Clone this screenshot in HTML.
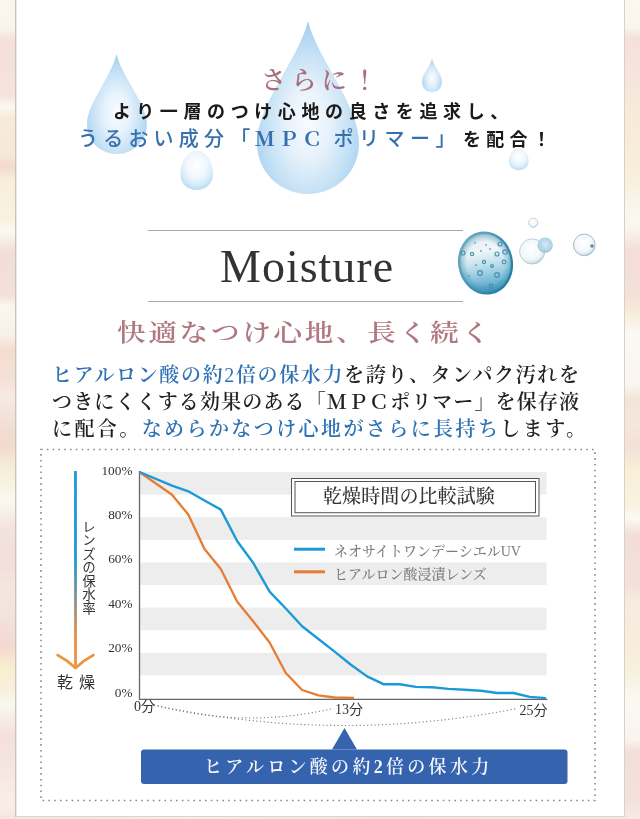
<!DOCTYPE html>
<html lang="ja">
<head>
<meta charset="utf-8">
<style>
*{margin:0;padding:0;box-sizing:border-box}
html,body{width:640px;height:819px;overflow:hidden}
body{position:relative;background:#fbf1e8;font-family:"Liberation Sans","Noto Sans CJK JP",sans-serif}
#fl{position:absolute;left:0;top:0;width:16px;height:819px;background:linear-gradient(180deg,#faf6ee 0px,#faf4ed 28px,#f5e0da 40px,#f6e3dd 95px,#fbf7f2 106px,#f8ead8 118px,#f7e7d7 155px,#f3d9d0 166px,#f8efda 180px,#f9f2e1 220px,#fbf8f2 232px,#f3ded7 252px,#f4e0d8 295px,#faf6f0 306px,#f8f0e8 335px,#f4ddce 350px,#f5e1d7 380px,#f7eae4 395px,#f3e1da 418px,#f2d9cc 445px,#f7eed7 468px,#f8f3e4 488px,#fbf8f2 500px,#f3e2de 530px,#f2deda 565px,#f4e7dc 585px,#f4e3dd 615px,#f3d8d0 645px,#f8eed0 668px,#f8f0dc 690px,#faf7f0 705px,#f4e0dc 735px,#f6e5e1 770px,#f8eee9 800px,#f7e9e3 819px)}
#fr{position:absolute;left:624px;top:0;width:16px;height:819px;background:linear-gradient(180deg,#fbf8ee 0px,#faf4ed 28px,#f5e1da 38px,#f6e5dd 80px,#f8ead7 110px,#f8ecda 160px,#f8f0dd 180px,#faf6eb 205px,#fbf8f0 225px,#f4ded8 250px,#f5e0d8 295px,#f7e9d8 310px,#fbf9f4 332px,#faf5ee 385px,#f4e3d8 400px,#f7e7da 425px,#f4dfd8 445px,#f8f0d8 470px,#f8f2df 505px,#fbf9f4 518px,#f4ddd8 535px,#f4e0da 585px,#f7eadf 600px,#f8ecdd 640px,#f8f0da 668px,#fbf8f2 700px,#faf4ee 740px,#f4ded9 752px,#f5e0dc 800px,#f7e9e3 819px)}
#fb{position:absolute;left:0;top:815px;width:640px;height:4px;background:linear-gradient(90deg,#f6e4de,#f8ece4 30%,#f5e2dc 60%,#f7e8e0)}
#panel{position:absolute;left:15px;top:0;width:610px;height:817px;background:#fff;border-left:1px solid #c4c5bc;border-right:1px solid #d3d3cc;border-bottom:1px solid #d6d6cf;box-shadow:inset 1px 0 0 #e9e9e5}
.abs{position:absolute;white-space:nowrap}
#g{position:absolute;left:0;top:0}
.t1{left:0;width:640px;text-align:center}
.para{font-family:"Liberation Serif","Noto Serif CJK JP","Noto Serif CJK SC",serif;font-size:20px;line-height:27px;color:#222;font-weight:600}
.pl{text-align:justify;text-align-last:justify;white-space:nowrap}
.bl{color:#2f72b3}
.ylab{font-family:"Liberation Serif",serif;font-size:13.3px;fill:#333}
.xlab{font-family:"Liberation Serif","Noto Sans CJK JP",sans-serif;font-size:14px;fill:#333}
</style>
</head>
<body>
<div id="fl"></div><div id="fr"></div><div id="fb"></div>
<div id="panel"></div>
<svg id="g" width="640" height="819" viewBox="0 0 640 819">
<defs>
<radialGradient id="eggG" cx="0.5" cy="0.38" r="0.62">
<stop offset="0" stop-color="#ffffff"/>
<stop offset="0.5" stop-color="#f0f7fd"/>
<stop offset="0.8" stop-color="#d6ebfa"/>
<stop offset="1" stop-color="#b7dcf5"/>
</radialGradient>
<radialGradient id="dropG" cx="0.5" cy="0.6" r="0.6" fx="0.5" fy="0.58">
<stop offset="0" stop-color="#f8fcff"/>
<stop offset="0.35" stop-color="#e7f2fb"/>
<stop offset="0.7" stop-color="#c3e0f5"/>
<stop offset="1" stop-color="#a2cef0"/>
</radialGradient>
<linearGradient id="arrowG" x1="0" y1="0" x2="0" y2="1">
<stop offset="0" stop-color="#1c9ad8"/>
<stop offset="0.5" stop-color="#2a9ad0"/>
<stop offset="1" stop-color="#eb8a35"/>
</linearGradient>
<linearGradient id="bubLin" x1="0" y1="0" x2="0" y2="1">
<stop offset="0" stop-color="#e2edf1"/>
<stop offset="0.3" stop-color="#eff6f8"/>
<stop offset="0.5" stop-color="#c8e3ee"/>
<stop offset="0.78" stop-color="#7dbdd9"/>
<stop offset="1" stop-color="#3f95bd"/>
</linearGradient>
<radialGradient id="bubEdge" cx="0.5" cy="0.5" r="0.5">
<stop offset="0.7" stop-color="#2f87a9" stop-opacity="0"/>
<stop offset="0.9" stop-color="#2f87a9" stop-opacity="0.35"/>
<stop offset="1" stop-color="#2a7e9f" stop-opacity="0.75"/>
</radialGradient>
<linearGradient id="rimG" x1="0" y1="0" x2="1" y2="1">
<stop offset="0" stop-color="#7fb0c6"/>
<stop offset="0.5" stop-color="#3d92b4"/>
<stop offset="1" stop-color="#1f7596"/>
</linearGradient>
<radialGradient id="bubG" cx="0.42" cy="0.33" r="0.68">
<stop offset="0" stop-color="#f6fafb"/>
<stop offset="0.35" stop-color="#e2eff4"/>
<stop offset="0.62" stop-color="#b5d9e9"/>
<stop offset="0.8" stop-color="#7fbcd6"/>
<stop offset="0.92" stop-color="#4a9abb"/>
<stop offset="1" stop-color="#2c7f9f"/>
</radialGradient>
<radialGradient id="sbG" cx="0.45" cy="0.4" r="0.6">
<stop offset="0" stop-color="#ffffff"/>
<stop offset="0.7" stop-color="#f2f7fa"/>
<stop offset="0.9" stop-color="#d6e6ee"/>
<stop offset="1" stop-color="#a9c3cf"/>
</radialGradient>
<radialGradient id="sb2G" cx="0.5" cy="0.45" r="0.6">
<stop offset="0" stop-color="#d2e8f3"/>
<stop offset="0.7" stop-color="#a6cfe4"/>
<stop offset="1" stop-color="#6fa9c6"/>
</radialGradient>
</defs>
<!-- drops -->
<path d="M308 21 C318 60 359 105 359 143 C359 172 336 194 308 194 C280 194 257 172 257 143 C257 105 298 60 308 21 Z" fill="url(#dropG)"/>
<path d="M116.5 54 C122 77 147 104 147 124 C147 141 133 154 117 154 C100 154 87 141 87 124 C87 104 111 77 116.5 54 Z" fill="url(#dropG)"/>
<path d="M196.6 150.5 C206 150.5 213 163 213 174 C213 183.5 205.7 190 196.6 190 C187.5 190 180.3 183.5 180.3 174 C180.3 163 187.2 150.5 196.6 150.5 Z" fill="url(#eggG)"/>
<path d="M432 58.5 C434 67 442 74 442 82 C442 88 437.5 92 432 92 C426.5 92 422 88 422 82 C422 74 430 67 432 58.5 Z" fill="url(#dropG)"/>
<path d="M518.8 148.5 C524.5 148.5 528.6 155 528.6 161 C528.6 166.5 524.3 170.3 518.8 170.3 C513.3 170.3 509 166.5 509 161 C509 155 513.1 148.5 518.8 148.5 Z" fill="url(#eggG)"/>
<!-- bubbles -->
<g transform="rotate(-10 485.5 263)">
<ellipse cx="485.5" cy="263" rx="26.5" ry="30.8" fill="url(#bubLin)"/>
<ellipse cx="485.5" cy="263" rx="26.5" ry="30.8" fill="url(#bubEdge)"/>
<ellipse cx="485.5" cy="263" rx="26.3" ry="30.6" fill="none" stroke="url(#rimG)" stroke-width="2.2"/>
</g>
<g fill="none" stroke="#3b8db0" stroke-width="1.2" opacity="0.9">
<circle cx="472" cy="254" r="1.6"/><circle cx="497" cy="254" r="2"/><circle cx="505" cy="252" r="2.2"/>
<circle cx="504" cy="262" r="1.8"/><circle cx="480" cy="273" r="2.4"/><circle cx="497" cy="275" r="2.4"/>
<circle cx="491" cy="286" r="1.8"/><circle cx="463" cy="253" r="2"/><circle cx="500" cy="244" r="2"/>
<circle cx="484" cy="262" r="1.6"/><circle cx="492" cy="266" r="1.4"/>
</g>
<g fill="#4b97b8" opacity="0.8">
<circle cx="481" cy="251" r="1"/><circle cx="490" cy="249" r="1"/><circle cx="476" cy="265" r="1"/>
<circle cx="469" cy="276" r="1.1"/><circle cx="486" cy="245" r="0.9"/><circle cx="475" cy="243" r="0.9"/>
</g>
<circle cx="533.2" cy="222.7" r="4.6" fill="url(#sbG)" stroke="#b9c9d1" stroke-width="0.8"/>
<circle cx="532.2" cy="251.5" r="12.6" fill="url(#sbG)" stroke="#bccbd2" stroke-width="0.9"/>
<circle cx="545.2" cy="245.2" r="7.6" fill="url(#sb2G)" opacity="0.9"/>
<circle cx="584.3" cy="244.9" r="10.8" fill="url(#sbG)" stroke="#a9bcc6" stroke-width="1"/>
<circle cx="592" cy="246" r="1.8" fill="#4d8fa8"/>
</svg>

<div class="abs" style="left:261px;top:60px;font-family:'Noto Serif CJK JP','Noto Serif CJK SC',serif;font-size:25px;letter-spacing:5.4px;color:#a96f79;font-weight:600">さらに！</div>
<div class="abs" style="left:113px;top:97px;font-size:18px;letter-spacing:5.6px;color:#1a1a1a;font-weight:700">より一層のつけ心地の良さを追求し、</div>
<div class="abs" style="left:78px;top:123px;font-size:20px;letter-spacing:5.2px;color:#386fae;font-weight:500">うるおい成分</div>
<div class="abs" style="left:230.3px;top:123px;font-size:20px;color:#386fae;font-weight:500">「</div>
<div class="abs" style="left:254.7px;top:123px;font-size:20px;letter-spacing:3.75px;color:#386fae;font-family:'Noto Serif CJK JP','Noto Serif CJK SC',serif;font-weight:700">ＭＰＣ</div>
<div class="abs" style="left:333.4px;top:123px;font-size:20px;letter-spacing:5.5px;color:#386fae;font-weight:500">ポリマー」</div>
<div class="abs" style="left:463px;top:125px;font-size:18px;letter-spacing:5.2px;color:#1a1a1a;font-weight:700">を配合！</div>

<!-- Moisture -->
<div class="abs" style="left:148px;top:230px;width:315px;height:1px;background:#a9a9a9"></div>
<div class="abs" style="left:148px;top:301px;width:315px;height:1px;background:#a9a9a9"></div>
<div class="abs" style="left:220px;top:240px;font-family:'Liberation Serif',serif;font-size:46px;color:#333;letter-spacing:1px">Moisture</div>
<div class="abs" style="left:117px;top:313px;font-family:'Noto Serif CJK JP','Noto Serif CJK SC',serif;font-size:26px;letter-spacing:2.45px;color:#b07880;font-weight:600;transform:scale(1.1,0.92);transform-origin:0 0">快適なつけ心地、長く続く</div>

<div class="abs para" style="left:52px;top:361.5px;width:527px">
<div class="pl"><span class="bl">ヒアルロン酸の約<span style="font-weight:400">2</span>倍の保水力</span>を誇り、タンパク汚れを</div>
<div class="pl">つきにくくする効果のある「ＭＰＣポリマー」を保存液</div>
<div class="pl" style="width:534px">に配合。<span class="bl">なめらかなつけ心地がさらに長持ち</span>します。</div>
</div>

<!-- chart -->
<svg class="abs" style="left:0;top:0" width="640" height="819" viewBox="0 0 640 819">
<defs>
<linearGradient id="arrowG2" x1="0" y1="471" x2="0" y2="668" gradientUnits="userSpaceOnUse">
<stop offset="0" stop-color="#1c9ad8"/>
<stop offset="0.45" stop-color="#2398d2"/>
<stop offset="0.85" stop-color="#e8903f"/>
<stop offset="1" stop-color="#ee9440"/>
</linearGradient>
</defs>
<rect x="41" y="449.5" width="554" height="351" fill="none" stroke="#8a8a8a" stroke-width="1.6" stroke-dasharray="1.6 4.2"/>
<g fill="#ededed">
<rect x="140" y="472" width="406.5" height="22.6"/>
<rect x="140" y="517.2" width="406.5" height="22.6"/>
<rect x="140" y="562.4" width="406.5" height="22.6"/>
<rect x="140" y="607.6" width="406.5" height="22.6"/>
<rect x="140" y="652.8" width="406.5" height="22.6"/>
</g>
<line x1="139.5" y1="471" x2="139.5" y2="699.5" stroke="#666" stroke-width="1.3"/>
<line x1="139" y1="699.3" x2="547.5" y2="699.3" stroke="#666" stroke-width="1.3"/>
<polyline fill="none" stroke="#e57d33" stroke-width="2.3" stroke-linejoin="round" points="139.5,472.0 172.0,494.8 188.3,514.5 204.5,549.0 220.8,569.0 237.1,601.5 253.3,621.5 269.6,642.5 285.8,673.0 302.1,690.0 318.4,695.3 334.6,697.5 354,698.0"/>
<polyline fill="none" stroke="#1b9ad8" stroke-width="2.4" stroke-linejoin="round" points="139.5,472.0 172.0,485.7 188.3,491.3 204.5,500.5 220.8,509.6 237.1,541.0 253.3,563.0 269.6,591.6 285.8,608.5 302.1,626.3 318.4,639.0 334.6,651.6 350.9,664.7 367.1,676.4 383.4,684.2 399.7,684.2 415.9,686.9 432.2,687.3 448.4,688.9 464.7,689.8 481.0,690.8 497.2,693.0 513.5,693.0 529.7,696.9 546.0,698.1"/>
<g class="ylab" text-anchor="end">
<text x="132.5" y="474.5">100%</text>
<text x="132.5" y="519">80%</text>
<text x="132.5" y="563.4">60%</text>
<text x="132.5" y="607.9">40%</text>
<text x="132.5" y="652.3">20%</text>
<text x="132.5" y="696.7">0%</text>
</g>
<g class="xlab">
<text x="134" y="711">0分</text>
<text x="335" y="713.5">13分</text>
<text x="519.5" y="714.5">25分</text>
</g>
<g fill="none" stroke="#777" stroke-width="1.1" stroke-dasharray="1.1 2.6">
<path d="M154 705 Q245 729 333 708.5"/>
<path d="M154 705 Q335 744 516 708.75"/>
</g>
<!-- legend -->
<rect x="291.5" y="478.5" width="247.5" height="37.5" fill="#fff" stroke="#555" stroke-width="1"/>
<rect x="295" y="481.5" width="240.5" height="31.2" fill="#fff" stroke="#555" stroke-width="1"/>
<text x="323" y="503" style="font-family:'Noto Serif CJK JP','Noto Serif CJK SC',serif;font-size:19px;fill:#333;letter-spacing:0.1px;font-weight:500">乾燥時間の比較試験</text>
<line x1="294" y1="549.2" x2="325" y2="549.2" stroke="#1b9ad8" stroke-width="3"/>
<line x1="294" y1="571.8" x2="325" y2="571.8" stroke="#e57d33" stroke-width="3"/>
<g style="font-family:'Liberation Serif','Noto Serif CJK JP','Noto Serif CJK SC',serif;font-size:14px;fill:#7a7a7a;font-weight:500">
<text x="334" y="556">ネオサイトワンデーシエルUV</text>
<text x="334" y="579">ヒアルロン酸浸漬レンズ</text>
</g>
<!-- y axis arrow -->
<line x1="75.5" y1="471" x2="75.5" y2="667" stroke="url(#arrowG2)" stroke-width="2.8"/>
<path d="M57.5 655 Q67 660 75.5 668 Q84 660 93.5 655" fill="none" stroke="#ee9440" stroke-width="2.6" stroke-linecap="round" stroke-linejoin="round"/>
<text x="89" y="520" style="writing-mode:vertical-rl;font-family:'Noto Sans CJK JP',sans-serif;font-size:13.5px;fill:#333">レンズの保水率</text>
<text x="57" y="687.5" style="font-family:'Noto Sans CJK JP',sans-serif;font-size:16px;fill:#333;letter-spacing:6px">乾燥</text>
<!-- callout -->
<path d="M344.5 728 L357 749.5 L332 749.5 Z" fill="#3563ae"/>
<rect x="141" y="749.5" width="426.5" height="34.5" rx="3" fill="#3563ae"/>
</svg>
<div class="abs" style="left:204px;top:749.5px;height:34.5px;line-height:34.5px;color:#f3f6fc;font-family:'Liberation Serif','Noto Serif CJK JP','Noto Serif CJK SC',serif;font-size:18px;letter-spacing:3.3px;font-weight:600">ヒアルロン酸の約2倍の保水力</div>

</body>
</html>
